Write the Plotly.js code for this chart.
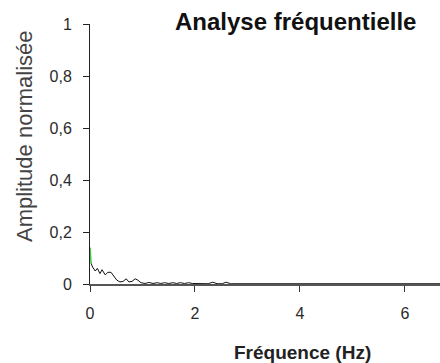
<!DOCTYPE html>
<html><head><meta charset="utf-8">
<script src="https://cdn.plot.ly/plotly-3.0.1.min.js"></script>
<style>html,body{margin:0;padding:0;background:#fff}#c{width:440px;height:363px}</style>
</head><body><div id="c"></div>
<script>
const chartTitle = "Analyse fréquentielle";
const xTitle = "Fréquence (Hz)";
const yTitle = "Amplitude normalisée";
const xTicks = [0, 2, 4, 6];
const yTicks = [0, 0.2, 0.4, 0.6, 0.8, 1];
const greenFreq = [0, 0.02];
const greenAmp = [0.14, 0.08];
const freq = [0.02, 0.05, 0.1, 0.14, 0.19, 0.23, 0.29, 0.34, 0.4, 0.46, 0.51, 0.57, 0.63, 0.69, 0.74, 0.8, 0.86, 0.91, 0.97,
  1.05, 1.12, 1.2, 1.28, 1.35, 1.42, 1.5, 1.58, 1.65, 1.72, 1.8, 1.88, 1.95, 2.1, 2.25, 2.34, 2.42, 2.52, 2.59, 2.68, 3.0, 4.0, 5.0, 6.0, 6.7];
const amp = [0.08, 0.065, 0.05, 0.06, 0.04, 0.055, 0.035, 0.045, 0.045, 0.03, 0.015, 0.008, 0.01, 0.02, 0.008, 0.01, 0.02, 0.015, 0.005,
  0.002, 0.006, 0.002, 0.005, 0.002, 0.005, 0.002, 0.005, 0.002, 0.005, 0.002, 0.005, 0.002, 0.002, 0.001, 0.007, 0.001, 0.001, 0.007, 0.001, 0.001, 0.001, 0.001, 0.001, 0.001];

const traces = [
  {x: freq, y: amp, type: 'scatter', mode: 'lines', line: {color: '#111', width: 1}, hoverinfo: 'skip'},
  {x: greenFreq, y: greenAmp, type: 'scatter', mode: 'lines', line: {color: '#3cc83c', width: 1.5}, hoverinfo: 'skip'}
];
const tickFont = {family: '"Liberation Sans Narrow", "Liberation Sans", Arial, sans-serif', size: 16, color: '#2a2a2a'};
const layout = {
  width: 440, height: 363,
  margin: {l: 90, r: 0, t: 24, b: 79},
  paper_bgcolor: '#fff', plot_bgcolor: '#fff',
  showlegend: false,
  separators: ', ',
  xaxis: {range: [0, 6.667], tickvals: xTicks, ticktext: xTicks.map(String), ticks: 'outside', ticklen: 6, tickcolor: '#333',
    showgrid: false, zeroline: false, showline: true, linecolor: '#555', linewidth: 2, tickfont: tickFont, ticklabelstandoff: 8, fixedrange: true},
  yaxis: {range: [0, 1], tickvals: yTicks, ticks: 'outside', ticklen: 6, tickcolor: '#222',
    showgrid: false, zeroline: false, showline: true, linecolor: '#222', linewidth: 1, tickfont: tickFont, ticklabelstandoff: 8, fixedrange: true},
  annotations: [
    {text: chartTitle, xref: 'paper', yref: 'paper', x: (295 - 90) / 350, y: (284 - 21) / 260, xanchor: 'center', yanchor: 'middle', showarrow: false,
      font: {family: '"Liberation Sans", Arial, sans-serif', size: 24, color: '#111', weight: 'bold'}},
    {text: xTitle, xref: 'paper', yref: 'paper', x: (302 - 90) / 350, y: -(352 - 284) / 260, xanchor: 'center', yanchor: 'middle', showarrow: false,
      font: {family: '"Liberation Sans Narrow", "Liberation Sans", Arial, sans-serif', size: 19, color: '#222', weight: 'bold'}},
    {text: yTitle, xref: 'paper', yref: 'paper', x: -(90 - 24) / 350, y: (284 - 136) / 260, xanchor: 'center', yanchor: 'middle', showarrow: false, textangle: -90,
      font: {family: '"Liberation Sans", Arial, sans-serif', size: 22, color: '#444'}}
  ]
};
layout.yaxis.ticktext = yTicks.map(v => v === 0 || v === 1 ? String(v) : v.toFixed(1).replace('.', ','));
Plotly.newPlot('c', traces, layout, {displayModeBar: false, staticPlot: true});
</script></body></html>
